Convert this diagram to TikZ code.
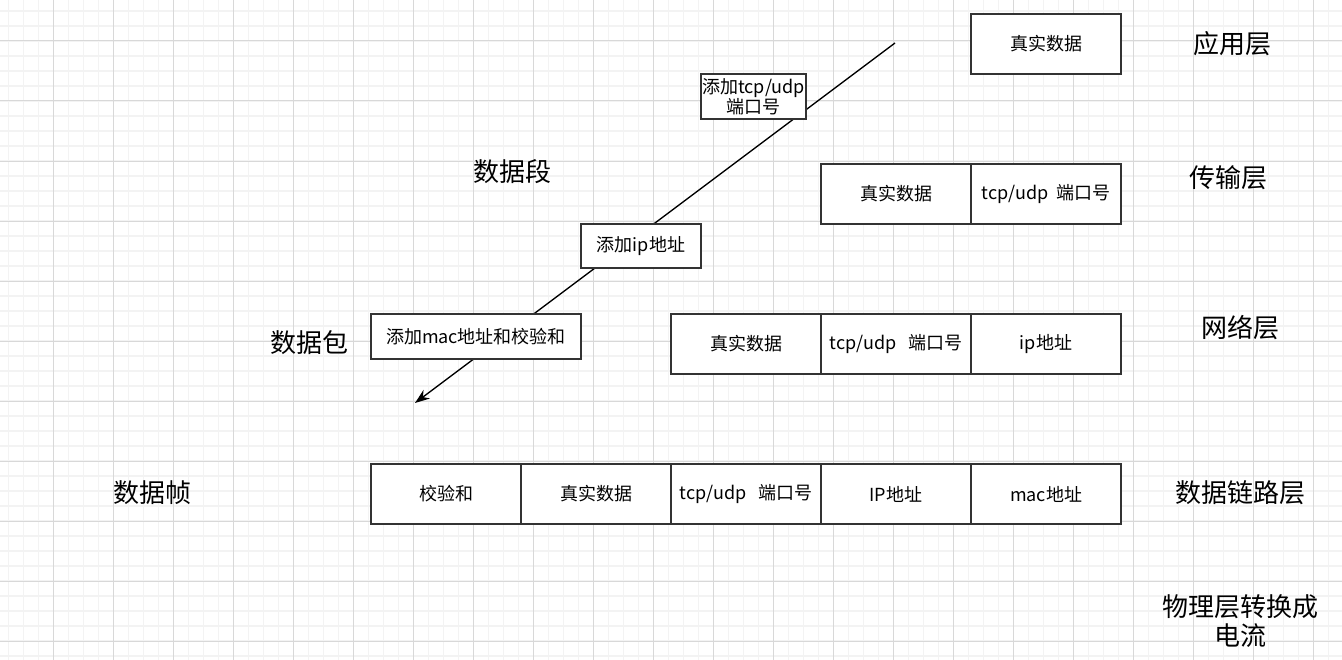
\documentclass[tikz,border=0pt]{standalone}
\usepackage{fontspec}
\setmainfont{Noto Sans CJK SC}
\usetikzlibrary{arrows.meta}
\definecolor{gridminor}{HTML}{F3F3F3}
\definecolor{gridmajor}{HTML}{D8D8D8}
\definecolor{boxline}{HTML}{333333}
\begin{document}
\begin{tikzpicture}[x=0.75pt,y=-0.75pt,
  cell/.style={draw=boxline,line width=1.5pt,fill=white,minimum width=112.5pt,minimum height=45pt,inner sep=0pt,font=\fontsize{13.5}{16}\selectfont,anchor=north west},
  tag/.style={draw=boxline,line width=1.5pt,fill=white,inner sep=0pt,font=\fontsize{13.5}{15}\selectfont,align=center,anchor=north west},
  layer/.style={font=\fontsize{19.5}{23}\selectfont,align=center},
  flow/.style={line width=1pt,-{Stealth[length=11pt,width=8pt]}}]
\useasboundingbox (0,0) rectangle (1342,660);
\fill[white] (0,0) rectangle (1342,660);
% grid
\foreach \i in {0,...,89} {\draw[gridminor,line width=1.1pt] (8.33+15*\i,0) -- (8.33+15*\i,660);}
\foreach \i in {0,...,44} {\draw[gridminor,line width=1.1pt] (0,11+15*\i) -- (1342,11+15*\i);}
\foreach \i in {0,...,22} {\draw[gridmajor,line width=0.75pt] (53.33+60*\i,0) -- (53.33+60*\i,660);}
\foreach \i in {0,...,10} {\draw[gridmajor,line width=0.75pt] (0,41+60*\i) -- (1342,41+60*\i);}

% flow arrow
\coordinate (s) at (895,43);
\coordinate (e) at (415,403);
\draw[flow] (s) -- (e);

% tags on arrow
\node[tag,minimum width=78.75pt,minimum height=33.75pt] (t1) at (700,73) {添加tcp/udp\\端口号};
\node[tag,minimum width=90pt,minimum height=33pt] (t2) at (580,223) {添加ip地址};
\node[tag,minimum width=157.5pt,minimum height=33.75pt] (t3) at (370,313) {添加mac地址和校验和};

% application
\node[cell] (a1) at (970,13) {真实数据};
% transport
\node[cell] (b1) at (820,163) {真实数据};
\node[cell] (b2) at (970,163) {tcp/udp\ \ 端口号};
% network
\node[cell] (c1) at (670,313) {真实数据};
\node[cell] (c2) at (820,313) {tcp/udp\ \ \ 端口号};
\node[cell] (c3) at (970,313) {ip地址};
% data link
\node[cell] (d1) at (370,463) {校验和};
\node[cell] (d2) at (520,463) {真实数据};
\node[cell] (d3) at (670,463) {tcp/udp\ \ \ 端口号};
\node[cell] (d4) at (820,463) {IP地址};
\node[cell] (d5) at (970,463) {mac地址};

% layer labels
\node[layer] (l1) at (1232,44) {应用层};
\node[layer] (l2) at (1228,178) {传输层};
\node[layer] (l3) at (1240,328) {网络层};
\node[layer] (l4) at (1240,493) {数据链路层};
\node[layer] (l5) at (1240,621) {物理层转换成\\[-1pt]电流};

% unit labels
\node[layer] (u1) at (512,172) {数据段};
\node[layer] (u2) at (309,343) {数据包};
\node[layer] (u3) at (152,493) {数据帧};
\end{tikzpicture}
\end{document}
